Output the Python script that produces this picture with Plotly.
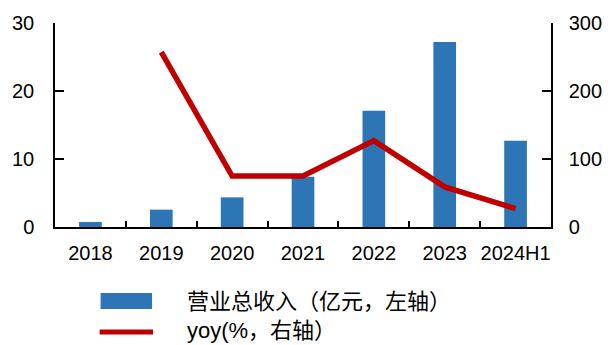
import plotly.graph_objects as go

# Annual figures
years = ["2018", "2019", "2020", "2021", "2022", "2023", "2024H1"]
revenue = [0.74, 2.55, 4.36, 7.4, 17.1, 27.2, 12.7]          # 亿元
yoy = [None, 257, 75, 75, 127, 59, 27]                        # %
left_ticks = [0, 10, 20, 30]
right_ticks = [0, 100, 200, 300]
revenue_name = "营业总收入（亿元，左轴）"
yoy_name = "yoy(%，右轴）"

BLUE = "#2E75B6"
RED = "#C00000"
LATIN = "Liberation Sans, Arial, sans-serif"
CJK = "Liberation Sans, Noto Sans CJK SC, sans-serif"

fig = go.Figure()
fig.add_trace(go.Bar(x=years, y=revenue, marker_color=BLUE, marker_line_width=0,
                     name=revenue_name, yaxis="y"))
fig.add_trace(go.Scatter(x=years, y=yoy, mode="lines",
                         line=dict(color=RED, width=5.5),
                         name=yoy_name, yaxis="y2", connectgaps=False))

fig.update_layout(
    width=614, height=345,
    margin=dict(l=49, r=54, t=23, b=118),
    paper_bgcolor="white", plot_bgcolor="white",
    showlegend=False,
    bargap=0.68,
    font=dict(family=LATIN, color="black"),
    xaxis=dict(
        type="category", tickson="boundaries", ticks="inside", ticklen=6,
        tickcolor="black", tickwidth=1.5, tickangle=0,
        showline=True, linecolor="black", linewidth=1.5,
        tickfont=dict(size=20), ticklabelstandoff=7,
        showgrid=False, zeroline=False,
    ),
    yaxis=dict(
        range=[0, 30], tickvals=left_ticks, ticks="inside", ticklen=9,
        tickcolor="black", tickwidth=1.5,
        showline=True, linecolor="black", linewidth=1.5,
        tickfont=dict(size=20), ticklabelstandoff=15,
        showgrid=False, zeroline=False,
    ),
    yaxis2=dict(
        range=[0, 300], tickvals=right_ticks, overlaying="y", side="right",
        ticks="inside", ticklen=9, tickcolor="black", tickwidth=1.5,
        showline=True, linecolor="black", linewidth=1.5,
        tickfont=dict(size=20), ticklabelstandoff=12,
        showgrid=False, zeroline=False,
    ),
)

# Legend drawn below the plot area
fig.add_shape(type="rect", xref="paper", yref="paper",
              x0=(96 - 49) / 511, x1=(149 - 49) / 511,
              y0=(227 - 309) / 204, y1=(227 - 293) / 204,
              fillcolor=BLUE, line_width=0)
fig.add_shape(type="line", xref="paper", yref="paper",
              x0=(95 - 49) / 511, x1=(150 - 49) / 511,
              y0=(227 - 332) / 204, y1=(227 - 332) / 204,
              line=dict(color=RED, width=5))
fig.add_annotation(xref="paper", yref="paper", x=(183 - 49) / 511, y=(227 - 301) / 204,
                   text=revenue_name, showarrow=False, xanchor="left", yanchor="middle",
                   font=dict(family=CJK, size=22, color="black"))
fig.add_annotation(xref="paper", yref="paper", x=(183 - 49) / 511, y=(227 - 330) / 204,
                   text=yoy_name, showarrow=False, xanchor="left", yanchor="middle",
                   font=dict(family=CJK, size=22, color="black"))

fig.write_html("out.html")
